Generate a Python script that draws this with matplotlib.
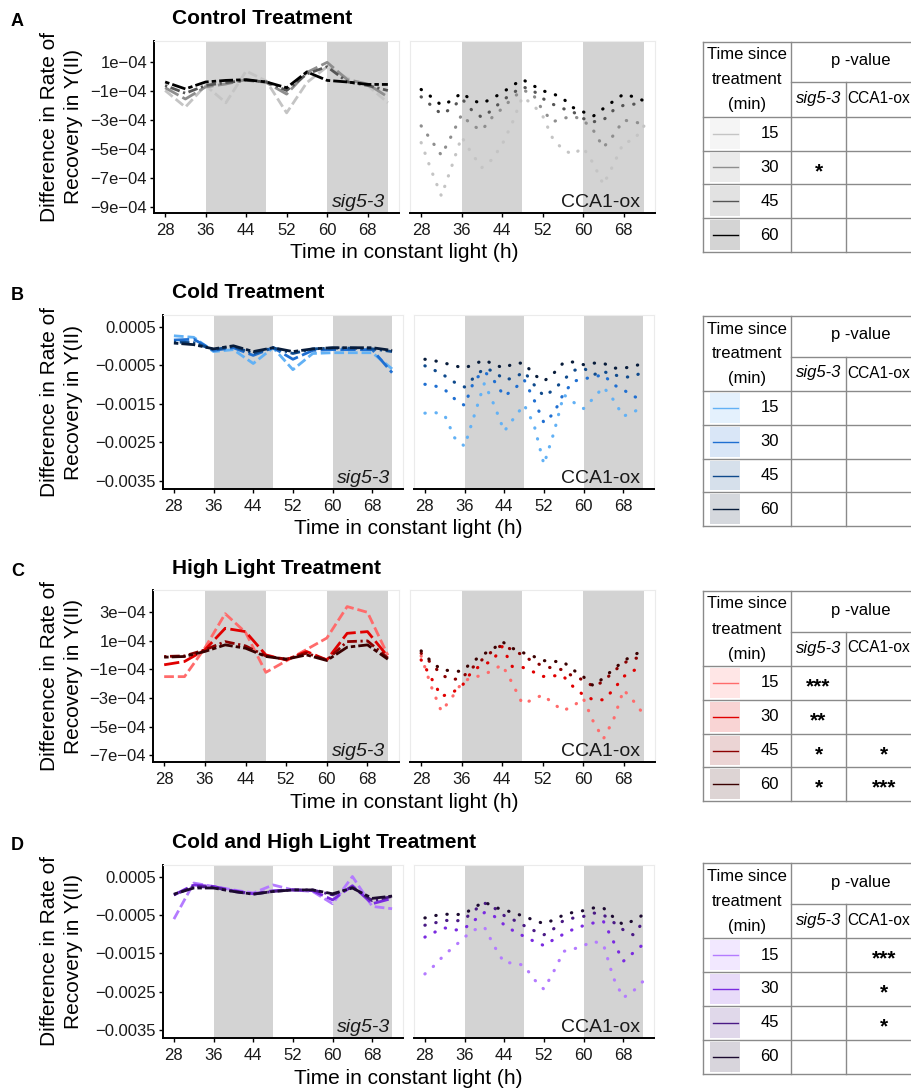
import numpy as np
import matplotlib.pyplot as plt
from matplotlib.patches import Rectangle

plt.rcParams['font.family'] = ['Liberation Sans', 'DejaVu Sans']

# sampling times (h in constant light)
t_sig = [28, 32, 36, 40, 44, 48, 52, 56, 60, 64, 68, 72]
t_cca = [28, 30, 32, 34, 36, 38, 40, 42, 44, 46, 48, 50, 52, 54, 56, 58, 60, 62, 64, 66, 68, 70, 72]
minutes = [15, 30, 45, 60]
x_ticks = [28, 36, 44, 52, 60, 68]
nights = [(36, 48), (60, 72)]

# Control treatment (x 1e-4), series order 15, 30, 45, 60 min
ctrl_sig = [[-0.95, -2.1, -0.6, -1.8, 0.4, -0.3, -2.5, -0.4, 0.7, -0.1, -0.6, -1.8],
            [-0.76, -1.54, -0.7, -0.5, -0.2, -0.4, -1.2, 0.3, 1.0, -0.2, -0.5, -1.4],
            [-0.6, -1.14, -0.6, -0.4, -0.25, -0.35, -0.95, 0.2, 0.7, -0.35, -0.6, -0.95],
            [-0.36, -0.84, -0.36, -0.25, -0.2, -0.36, -0.76, 0.34, -0.25, -0.36, -0.53, -0.53]]
ctrl_cca = [[-4.56, -6.48, -8.26, -6.25, -4.16, -5.32, -6.29, -5.74, -4.7, -3.2, -1.39, -1.9,
             -2.7, -4.28, -5.04, -5.39, -4.9, -6.0, -7.47, -6.08, -4.56, -4.4, -3.42],
            [-3.4, -4.4, -5.44, -4.08, -2.62, -3.36, -3.7, -2.82, -2.2, -1.5, -0.92, -1.16,
             -2.31, -3.12, -2.89, -2.73, -3.0, -3.7, -4.9, -4.05, -3.0, -3.12, -3.28],
            [-1.39, -1.99, -2.59, -2.2, -1.5, -2.31, -2.82, -2.31, -1.66, -1.16, -0.69, -0.92,
             -1.5, -1.9, -2.2, -2.43, -2.89, -3.12, -3.0, -2.31, -1.97, -1.9, -1.74],
            [-0.88, -1.39, -1.97, -1.66, -1.11, -1.62, -1.85, -1.5, -1.11, -0.62, -0.18, -0.58,
             -0.97, -1.16, -1.5, -2.13, -2.43, -2.73, -2.2, -1.69, -1.2, -1.39, -1.66]]

# Cold treatment (x 1e-3)
cold_sig = [[0.26, 0.22, -0.15, -0.1, -0.46, -0.05, -0.62, -0.2, -0.18, -0.18, -0.18, -0.6],
            [0.15, 0.17, -0.12, -0.05, -0.25, -0.05, -0.35, -0.12, -0.1, -0.1, -0.1, -0.7],
            [0.1, 0.08, -0.1, -0.02, -0.2, -0.05, -0.2, -0.08, -0.06, -0.06, -0.08, -0.15],
            [0.07, 0.03, -0.08, 0.0, -0.15, -0.05, -0.15, -0.08, -0.05, -0.05, -0.05, -0.12]]
cold_cca = [[-1.75, -1.73, -1.81, -2.39, -2.61, -1.79, -0.97, -1.55, -2.22, -1.87, -1.53, -2.05,
             -3.08, -2.26, -1.27, -1.47, -1.63, -1.36, -1.07, -1.4, -1.83, -1.73, -1.57],
            [-1.0, -1.04, -1.14, -1.38, -1.55, -0.88, -0.67, -0.92, -1.31, -1.12, -0.88, -1.4,
             -2.0, -1.75, -1.23, -0.92, -0.86, -0.81, -0.75, -1.01, -1.14, -1.31, -1.4],
            [-0.52, -0.64, -0.78, -0.95, -1.07, -0.81, -0.58, -0.67, -0.88, -0.84, -0.67, -1.01,
             -1.31, -1.14, -0.88, -0.64, -0.58, -0.75, -0.67, -0.75, -0.81, -0.81, -0.67],
            [-0.35, -0.39, -0.45, -0.52, -0.58, -0.47, -0.37, -0.49, -0.58, -0.45, -0.45, -0.75,
             -0.92, -0.71, -0.43, -0.42, -0.49, -0.45, -0.45, -0.58, -0.58, -0.54, -0.45]]

# High light treatment (x 1e-4)
hl_sig = [[-1.5, -1.5, 0.5, 2.9, 1.6, -1.2, -0.4, 0.4, 1.2, 3.4, 3.0, 0.0],
          [-0.67, -0.44, 0.37, 1.88, 1.65, 0.02, -0.33, 0.26, -0.33, 1.53, 1.65, -0.09],
          [-0.09, -0.05, 0.37, 0.95, 0.65, -0.05, -0.28, 0.14, -0.33, 0.95, 1.0, -0.2],
          [-0.14, -0.09, 0.26, 0.72, 0.49, -0.09, -0.28, 0.02, -0.37, 0.56, 0.72, -0.28]]
hl_cca = [[-0.05, -2.19, -3.93, -3.0, -1.95, -1.53, -1.44, -1.07, -0.67, -1.95, -3.4, -3.12,
           -2.77, -3.35, -3.88, -3.58, -3.0, -4.63, -5.86, -4.51, -2.42, -3.23, -4.16],
          [-0.33, -1.6, -2.88, -2.65, -2.19, -1.14, -0.67, -0.44, 0.6, -0.79, -0.84, -1.14,
           -1.49, -1.44, -1.44, -2.19, -2.77, -3.12, -3.12, -2.42, -1.49, -1.07, -0.79],
          [0.14, -0.56, -1.37, -1.72, -1.6, -0.91, -0.33, 0.26, 0.72, 0.37, 0.02, -0.44,
           -0.74, -0.91, -1.02, -1.49, -1.72, -2.19, -1.84, -1.14, -0.56, -0.21, -0.21],
          [0.3, -0.44, -1.02, -1.09, -1.14, -0.51, 0.02, 0.37, 0.95, 0.49, 0.19, -0.05,
           -0.37, -0.44, -0.44, -1.02, -1.49, -2.14, -1.6, -0.98, -0.4, 0.02, 0.33]]

# Cold and high light treatment (x 1e-3)
chl_sig = [[-0.61, 0.33, 0.24, 0.15, 0.07, 0.28, 0.15, 0.11, -0.21, 0.5, -0.28, -0.34],
           [0.02, 0.28, 0.24, 0.13, 0.05, 0.13, 0.15, 0.13, -0.11, 0.26, -0.21, -0.07],
           [0.02, 0.24, 0.22, 0.11, 0.04, 0.11, 0.15, 0.15, 0.02, 0.22, -0.13, -0.02],
           [0.04, 0.2, 0.2, 0.11, 0.04, 0.11, 0.15, 0.15, 0.05, 0.2, -0.07, -0.01]]
chl_cca = [[-2.04, -1.81, -1.53, -1.32, -1.08, -0.89, -0.82, -1.32, -1.75, -1.75, -1.82, -2.18,
            -2.44, -1.97, -1.45, -1.39, -1.3, -1.19, -1.27, -2.14, -2.66, -2.49, -2.23],
           [-1.08, -0.95, -0.84, -0.9, -0.85, -0.64, -0.44, -0.54, -0.76, -0.93, -1.06, -1.19,
            -1.3, -1.14, -1.0, -0.87, -0.78, -0.71, -0.67, -1.19, -1.71, -1.49, -1.27],
           [-0.77, -0.71, -0.64, -0.67, -0.61, -0.38, -0.19, -0.32, -0.52, -0.64, -0.78, -0.91,
            -1.02, -0.86, -0.64, -0.58, -0.54, -0.45, -0.5, -0.69, -0.89, -1.02, -0.69],
           [-0.58, -0.52, -0.48, -0.5, -0.47, -0.3, -0.16, -0.3, -0.37, -0.45, -0.54, -0.64,
            -0.73, -0.63, -0.5, -0.43, -0.39, -0.32, -0.32, -0.56, -0.76, -0.65, -0.5]]

# significance marks per time point: (sig5-3, CCA1-ox)
ctrl_stars = (['', '*', '', ''], ['', '', '', ''])
cold_stars = (['', '', '', ''], ['', '', '', ''])
hl_stars = (['***', '**', '*', '*'], ['', '', '*', '***'])
chl_stars = (['', '', '', ''], ['***', '*', '*', ''])

grey_cols = ['#c4c4c4', '#8e8e8e', '#555555', '#000000']
blue_cols = ['#62b1f5', '#1f6fd1', '#0f4a8c', '#081c3a']
red_cols = ['#ff6b6b', '#e00000', '#8b0000', '#3a0000']
purple_cols = ['#b47bff', '#7a2be0', '#4a1a85', '#1c0a30']

sci_ticks = [1e-4, -1e-4, -3e-4, -5e-4, -7e-4, -9e-4]
sci_labels = ['1e\u221204', '\u22121e\u221204', '\u22123e\u221204', '\u22125e\u221204', '\u22127e\u221204', '\u22129e\u221204']
hl_ticks = [3e-4, 1e-4, -1e-4, -3e-4, -5e-4, -7e-4]
hl_labels = ['3e\u221204', '1e\u221204', '\u22121e\u221204', '\u22123e\u221204', '\u22125e\u221204', '\u22127e\u221204']
dec_ticks = [0.0005, -0.0005, -0.0015, -0.0025, -0.0035]
dec_labels = ['0.0005', '\u22120.0005', '\u22120.0015', '\u22120.0025', '\u22120.0035']

dash_styles = [(0, (3.5, 1.4)), (0, (5.5, 1.6)), (0, (0.8, 1.3, 3.5, 1.3)), (0, (1.6, 1.1, 5, 1.1))]

W, H = 912, 1090
fig = plt.figure(figsize=(W / 100, H / 100), dpi=100)


def box(left, top, right, bottom):
    # axes placed in pixel units measured from the top-left corner
    return fig.add_axes([left / W, 1 - bottom / H, (right - left) / W, (bottom - top) / H])


page = box(0, 0, W, H)
page.set_xlim(0, W)
page.set_ylim(H, 0)
page.axis('off')


def style(ax, ylim, left_panel):
    ax.set_xlim(25.8, 74.2)
    ax.set_ylim(*ylim)
    ax.set_xticks(x_ticks)
    for s in ax.spines.values():
        s.set_color('#ebebeb')
        s.set_linewidth(0.8)
    ax.spines['bottom'].set_color('black')
    ax.spines['bottom'].set_linewidth(1.4)
    if left_panel:
        ax.spines['left'].set_color('black')
        ax.spines['left'].set_linewidth(1.4)
    else:
        ax.set_yticks([])
    ax.tick_params(length=3, width=1, color='black', labelsize=12, pad=2, labelcolor='#1a1a1a')
    ax.tick_params(axis='x', pad=4)
    for a, b in nights:
        ax.axvspan(a, b, color='#d3d3d3', lw=0, zorder=0)


def table(top, colors, stars):
    x0, x1, x2, x3 = 703, 791, 846, 930
    split, head = top + 40.5, top + 75
    rh = 33.8
    bottom = head + 4 * rh
    lc, lw = '#8a8a8a', 1.0
    page.plot([x0, x3], [top, top], color=lc, lw=lw)
    page.plot([x1, x3], [split, split], color=lc, lw=lw)
    for i in range(5):
        y = head + i * rh
        page.plot([x0, x3], [y, y], color=lc, lw=lw)
    page.plot([x0, x0], [top, bottom], color=lc, lw=lw)
    page.plot([x1, x1], [top, bottom], color=lc, lw=lw)
    page.plot([x2, x2], [split, bottom], color=lc, lw=lw)
    for k, line in enumerate(['Time since', 'treatment', '(min)']):
        page.text(747, top + 13 + 25 * k, line, ha='center', va='center', fontsize=12)
    page.text((x1 + x3) / 2, top + 19, 'p -value', ha='center', va='center', fontsize=12)
    page.text((x1 + x2) / 2, top + 57, 'sig5-3', ha='center', va='center', fontsize=12, style='italic')
    page.text(x2 + 1.5, top + 57, 'CCA1-ox', ha='left', va='center', fontsize=11.2)
    for i, m in enumerate(minutes):
        y0 = head + i * rh
        yc = y0 + rh / 2
        page.add_patch(Rectangle((710.5, y0 + 2), 30, rh - 4, facecolor=colors[i], alpha=0.17, lw=0))
        page.plot([713, 738], [yc, yc], color=colors[i], lw=1.0)
        page.text(779, yc, str(m), ha='right', va='center', fontsize=12)
        page.text((x1 + x2) / 2, yc + 4, stars[0][i], ha='center', va='center', fontsize=15, fontweight='bold')
        page.text(884, yc + 4, stars[1][i], ha='center', va='center', fontsize=15, fontweight='bold')


rows = [
    ('A', 'Control Treatment', 41, 213, (154, 399, 410, 655), (-9.44e-4, 2.48e-4),
     sci_ticks, sci_labels, ctrl_sig, ctrl_cca, 1e-4, grey_cols, ctrl_stars, 41.7),
    ('B', 'Cold Treatment', 315, 489, (163, 403, 414, 654), (-3.72e-3, 0.8e-3),
     dec_ticks, dec_labels, cold_sig, cold_cca, 1e-3, blue_cols, cold_stars, 316),
    ('C', 'High Light Treatment', 590, 762, (153, 399, 410, 655), (-7.47e-4, 4.56e-4),
     hl_ticks, hl_labels, hl_sig, hl_cca, 1e-4, red_cols, hl_stars, 591),
    ('D', 'Cold and High Light Treatment', 865, 1038, (163, 403, 414, 654), (-3.71e-3, 0.8e-3),
     dec_ticks, dec_labels, chl_sig, chl_cca, 1e-3, purple_cols, chl_stars, 863.3),
]

for (letter, title, top, bottom, xs, ylim, yt, ytl, sig, cca, unit, cols, stars, ttop) in rows:
    ax_s = box(xs[0], top, xs[1], bottom)
    style(ax_s, ylim, True)
    ax_s.set_yticks(yt)
    ax_s.set_yticklabels(ytl)
    for i in range(4):
        ax_s.plot(t_sig, np.array(sig[i]) * unit, color=cols[i], lw=2.0,
                  linestyle=dash_styles[i], zorder=2 + i)
    ax_s.text(0.945, 0.012, 'sig5-3', transform=ax_s.transAxes, ha='right', va='bottom',
              fontsize=14, style='italic', color='#1a1a1a')

    ax_c = box(xs[2], top, xs[3], bottom)
    style(ax_c, ylim, False)
    for i in range(4):
        ax_c.plot(t_cca, np.array(cca[i]) * unit, color=cols[i], lw=2.3,
                  linestyle=(0, (0.1, 3.4)), dash_capstyle='round', zorder=2 + i)
    ax_c.text(0.94, 0.012, 'CCA1-ox', transform=ax_c.transAxes, ha='right', va='bottom',
              fontsize=14, color='#1a1a1a')

    page.text(11, top - 19, letter, ha='left', va='center', fontsize=13, fontweight='bold')
    page.text(172, top - 22, title, ha='left', va='center', fontsize=15, fontweight='bold')
    page.text(61.5, (top + bottom) / 2, 'Difference in Rate of\nRecovery in Y(II)', rotation=90,
              ha='center', va='center', fontsize=15, linespacing=1.3)
    page.text((xs[0] + xs[3]) / 2, bottom + 40, 'Time in constant light (h)', ha='center',
              va='center', fontsize=15)
    table(ttop, cols, stars)

fig.savefig('out.png', dpi=100)
